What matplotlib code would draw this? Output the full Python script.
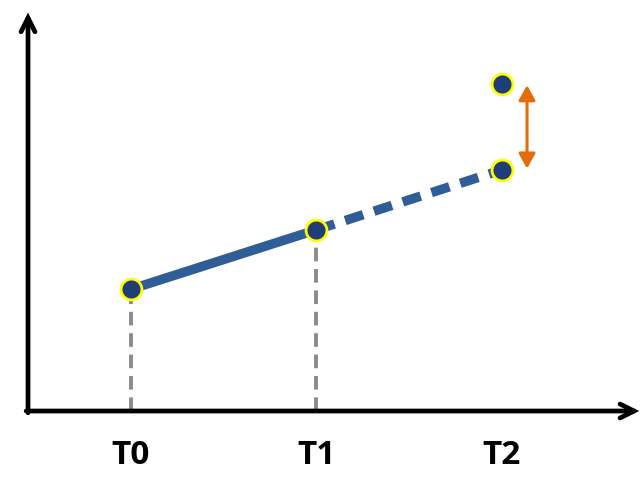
import matplotlib
matplotlib.use("Agg")
import matplotlib.pyplot as plt

# data
labels = ["T0", "T1", "T2"]
t = [0, 1, 2]
vals = [2.03, 3.02, 4.02]
upper_t2 = 5.45

blue = "#2F5D95"
navy = "#1F3E78"
grey = "#8A8A8A"
orange = "#E46C0A"

fig = plt.figure(figsize=(6.4, 4.82), dpi=100)
ax = fig.add_axes([0, 0, 1, 1])
ax.set_xlim(-0.706, 2.744)
ax.set_ylim(-1.183, 6.85)
ax.axis("off")

# axes with open arrow heads
x0, y0 = -0.555, 0.0
ax.annotate("", xy=(x0, 6.64), xytext=(x0, y0 - 0.03),
            arrowprops=dict(arrowstyle="->,head_length=1.0,head_width=0.5",
                            lw=3.4, color="black", shrinkA=0, shrinkB=0,
                            joinstyle="miter"))
ax.annotate("", xy=(2.74, y0), xytext=(x0 - 0.01, y0),
            arrowprops=dict(arrowstyle="->,head_length=1.0,head_width=0.5",
                            lw=3.4, color="black", shrinkA=0, shrinkB=0,
                            joinstyle="miter"))

# grey guide lines
for i in range(2):
    ax.plot([t[i], t[i]], [0, vals[i]], color=grey, lw=2.8,
            dashes=(3.5, 2.0), zorder=2)

# solid and dashed trend
ax.plot(t[:2], vals[:2], color=blue, lw=6.8, solid_capstyle="butt", zorder=3)
ax.plot(t[1:], vals[1:], color=blue, lw=6.8, dashes=(2.0, 1.2), zorder=3)

# points
ax.plot(t + [2], vals + [upper_t2], "o", ms=15, mfc=navy, mec="#FFFF00",
        mew=2, zorder=4, linestyle="none")

# orange double arrow
ax.annotate("", xy=(2.135, 5.43), xytext=(2.135, 4.04),
            arrowprops=dict(arrowstyle="<|-|>,head_length=0.9,head_width=0.5",
                            lw=2.2, color=orange, shrinkA=0, shrinkB=0))

for i, lab in enumerate(labels):
    ax.text(t[i], -0.74, lab, ha="center", va="center", fontsize=24,
            fontweight="bold", family="Open Sans")

fig.savefig("out.png", dpi=100)
